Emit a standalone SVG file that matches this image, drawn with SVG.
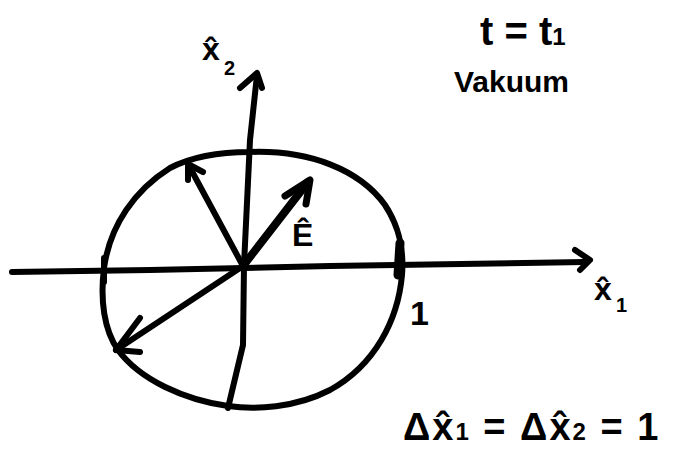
<svg xmlns="http://www.w3.org/2000/svg" width="690" height="456" viewBox="0 0 690 456">
<style>
.s{fill:none;stroke:#000;stroke-width:6;stroke-linecap:round;stroke-linejoin:round}
.t{font-family:"Liberation Sans","DejaVu Sans",sans-serif;font-weight:bold;fill:#000}
</style>
<rect width="690" height="456" fill="#fff"/>
<g id="circle">
<path class="s" d="M250,152 C310,150 360,170 385,205 C400,228 404,250 402,275 C398,320 375,365 330,390 C295,408 255,410 228,406 C185,400 140,380 118,350 C104,330 100,300 104,268 C110,225 135,190 170,168 C195,155 225,152 250,152 Z"/>
<path class="s" d="M104,258 L104,282"/>
<path class="s" d="M400,243 L398,275" style="stroke-width:9"/>
</g>
<g id="axes">
<path class="s" d="M12,272 L150,270 L330,266 L585,262"/>
<path class="s" d="M575,250 L590,260 L580,270"/>
<path class="s" d="M257,75 L250,140 L244,265 L243,345 L228,408"/>
<path class="s" d="M240,88 L257,73 L262,88"/>
</g>
<g id="vectors">
<path class="s" d="M243,266 L188,164"/>
<path class="s" d="M188,180 L188,164 L203,172"/>
<path class="s" d="M243,266 L308,182" style="stroke-width:8"/>
<path class="s" d="M285,196 L310,180 L306,204" style="stroke-width:7"/>
<path class="s" d="M243,266 L116,350"/>
<path class="s" d="M140,318 L116,350 L140,352"/>
</g>
<g id="labels">
<text class="t" x="202" y="60" font-size="32">x̂</text>
<text class="t" x="224" y="75" font-size="20">2</text>
<text class="t" x="594" y="300" font-size="32">x̂</text>
<text class="t" x="616" y="312" font-size="20">1</text>
<text class="t" x="292" y="246" font-size="32">Ê</text>
<text class="t" x="410" y="325" font-size="34">1</text>
<text class="t" x="480" y="45" font-size="40">t = t<tspan font-size="24">1</tspan></text>
<text class="t" x="454" y="92" font-size="30">Vakuum</text>
<text class="t" x="403" y="440" font-size="38" letter-spacing="2">Δx̂<tspan font-size="24">1</tspan> = Δx̂<tspan font-size="24">2</tspan> = 1</text>
</g>
</svg>
